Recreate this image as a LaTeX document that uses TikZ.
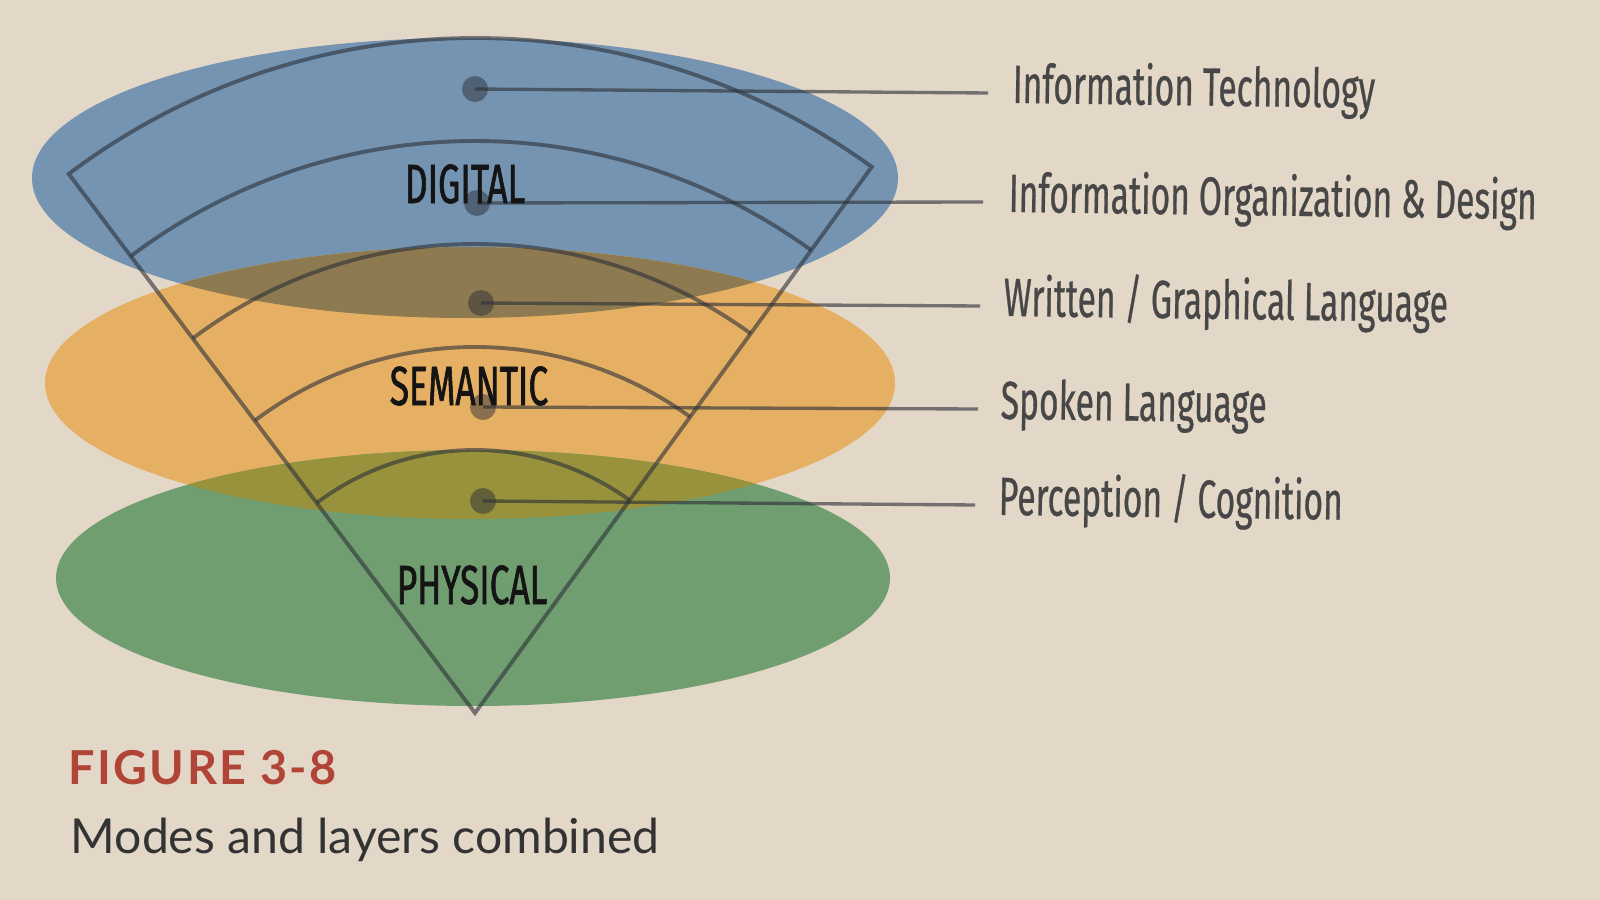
\documentclass[tikz,border=0pt]{standalone}
\usepackage{fontspec}
\usetikzlibrary{positioning}

\newfontfamily\condfont[FakeStretch=0.625, FakeBold=0.5]{Fira Sans}
\newfontfamily\layerfont[FakeStretch=0.64, FakeBold=1.1]{Fira Sans}
\newfontfamily\capfont{Lato}
\newfontfamily\figfont[LetterSpace=5]{Lato}

\definecolor{paper}{RGB}{227,215,200}
\definecolor{digitalblue}{RGB}{116,148,178}
\definecolor{semanticorange}{RGB}{230,176,100}
\definecolor{physicalgreen}{RGB}{112,158,112}
\definecolor{blueorange}{RGB}{142,122,80}
\definecolor{orangegreen}{RGB}{152,146,60}
\definecolor{ink}{RGB}{45,48,55}
\definecolor{figred}{RGB}{176,68,54}

\begin{document}
\begin{tikzpicture}[x=0.1mm, y=-0.1mm]

        \def\apx{475}               % x of the funnel tip
        \def\apy{713}               % y of the funnel tip
        \def\lang{-127}             % angle of the left funnel side
        \def\rang{-54}              % angle of the right funnel side
        \def\rout{675}              % outer radius of the funnel
        \tikzstyle{funnel}=[draw=ink, line width=1.1pt, draw opacity=.6]
        \tikzstyle{leader}=[draw=ink, line width=.95pt, draw opacity=.62]
        \tikzstyle{dot}=[circle, fill=ink, fill opacity=.5, minimum size=2.6mm, inner sep=0pt]
        \tikzstyle{layer}=[font={\layerfont\fontsize{15.7pt}{15.7pt}\selectfont}, text=black!92, inner sep=0pt]
        \tikzstyle{annot}=[font={\condfont\fontsize{15.3pt}{15.3pt}\selectfont}, text=black!72, text height=1.3ex, text depth=0pt, inner sep=0pt, rotate=-.8]

        % Paper background
            \fill[paper] (0,0) rectangle (1600,900);
            \useasboundingbox (0,0) rectangle (1600,900);

        % Draw the three layer ellipses and their overlaps
            \fill[digitalblue] (465,178) ellipse [x radius=433, y radius=140];
            \fill[semanticorange] (470,383) ellipse [x radius=425, y radius=136];
            \begin{scope}
                \clip (465,178) ellipse [x radius=433, y radius=140];
                \fill[blueorange] (470,383) ellipse [x radius=425, y radius=136];
            \end{scope}
            \fill[physicalgreen] (473,578) ellipse [x radius=417, y radius=128];
            \begin{scope}
                \clip (470,383) ellipse [x radius=425, y radius=136];
                \fill[orangegreen] (473,578) ellipse [x radius=417, y radius=128];
            \end{scope}

        % Draw the funnel and its inner arcs
            \coordinate (Ap) at (\apx,\apy);
            \draw[funnel, line join=miter] (Ap) -- ++(\lang:\rout) arc[start angle=\lang, end angle=\rang, radius=\rout] -- cycle;
            \foreach \rr in {572,469,366,263}{
                \draw[funnel] (Ap) ++(\lang:\rr) arc[start angle=\lang, end angle=\rang, radius=\rr];
            }

        % Draw the dots and connect them with the label ends
            \foreach \xn/\dx/\dy/\ex/\ey in {1/475/89/988/93, 2/477/203/983/202, 3/481/303/980/306, 4/483/407/978/409, 5/483/501/975/505}{
                \node[dot] (Dt-\xn) at (\dx,\dy) {};
                \coordinate (Ce-\xn) at (\ex,\ey);
                \draw[leader] (Dt-\xn.center) -- (Ce-\xn);
            }

        % Annotate the layers
            \node[layer] (Ly-dig) at (465,184) {DIGITAL};
            \node[layer] (Ly-sem) at (469,386) {SEMANTIC};
            \node[layer] (Ly-phy) at (472,585) {PHYSICAL};

            \node[annot, anchor=west, right=2.4mm of Ce-1] (Lb-1) {Information Technology};
            \node[annot, anchor=west, right=2.5mm of Ce-2] (Lb-2) {Information Organization \& Design};
            \node[annot, anchor=west, right=2.3mm of Ce-3] (Lb-3) {Written / Graphical Language};
            \node[annot, anchor=west, right=2.2mm of Ce-4] (Lb-4) {Spoken Language};
            \node[annot, anchor=west, right=2.3mm of Ce-5] (Lb-5) {Perception / Cognition};

        % Figure caption
            \node[anchor=base west, inner sep=0pt, text=figred, font={\figfont\bfseries\fontsize{13.3pt}{13.3pt}\selectfont}] (fig) at (68,784) {FIGURE 3-8};
            \node[anchor=base west, inner sep=0pt, text=black!80, font={\capfont\fontsize{13.7pt}{13.7pt}\selectfont}] (cap) at (70,853) {Modes and layers combined};

\end{tikzpicture}
\end{document}
